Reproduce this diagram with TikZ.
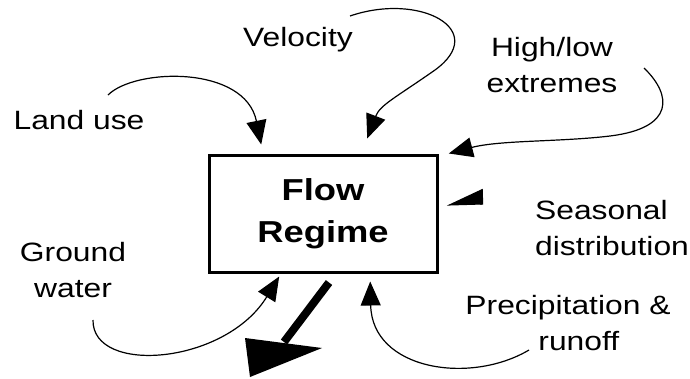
\documentclass[tikz,border=0pt]{standalone}
\usepackage{fontspec}
\setmainfont{Liberation Sans}
\usetikzlibrary{arrows.meta}

\tikzset{
  lbl/.style={font=\fontsize{26.5}{36}\selectfont, xscale=1.2, align=center, inner sep=0pt},
  conn/.style={line width=1.2pt, -{Triangle[length=24pt,width=20pt]}},
  outflow/.style={line width=8pt},
}

\begin{document}
\begin{tikzpicture}[x=1pt,y=-1pt]
\useasboundingbox (0,0) rectangle (690,378);
%%%%% Box %%%%%
\node[draw, line width=3pt, xscale=1.2, minimum width=190pt, minimum height=117pt,
  font=\fontsize{30.3}{42}\selectfont\bfseries, align=center] (regime) at (323,213.5) {Flow\\Regime};
%%%%% Labels %%%%%
\node[lbl] (landuse) at (79,120) {Land use};
\node[lbl] (velocity) at (298,40) {Velocity};
\node[lbl] (highlow) at (552,65) {High/low\\extremes};
\node[lbl, align=left] (seasonal) at (612,228) {Seasonal\\distribution};
\node[lbl] (ground) at (73,270) {Ground\\water};
\node[lbl] (precip) at (568,323) {Precipitation \&\\\hspace*{18pt}runoff};
%%%%% Ends %%%%%
\coordinate (lu-s) at (108,95);
\coordinate (lu-t) at ([shift={(54,-9)}]regime.north west);
\coordinate (ve-s) at (350,16);
\coordinate (ve-t) at ([shift={(160,-15)}]regime.north west);
\coordinate (hl-s) at (644,68);
\coordinate (hl-t) at ([shift={(10,0)}]regime.north east);
\coordinate (se-s) at (480,204);
\coordinate (se-t) at ([shift={(8,-8.5)}]regime.east);
\coordinate (gw-s) at (93,320);
\coordinate (gw-t) at ([shift={(72,3)}]regime.south west);
\coordinate (pr-s) at (529,350);
\coordinate (pr-t) at ([shift={(163,8)}]regime.south west);
\coordinate (out-s) at ([shift={(6,9)}]regime.south);
\coordinate (out-m) at (284,342);
\coordinate (out-t) at (250,377);
%%%%% Arrows %%%%%
\draw[conn] (lu-s) .. controls (135,68) and (245,65) .. (lu-t);
\draw[conn] (ve-s) .. controls (420,-8) and (490,30) .. (435,70)
  .. controls (395,98) and (380,105) .. (ve-t);
\draw[conn] (hl-s) .. controls (672,95) and (675,128) .. (610,136)
  .. controls (560,142) and (500,140) .. (hl-t);
\draw[conn, -{Triangle[length=35pt,width=30pt,right]}] (se-s) -- (se-t);
\draw[conn] (gw-s) .. controls (92,375) and (225,365) .. (gw-t);
\draw[conn] (pr-s) .. controls (470,385) and (372,370) .. (pr-t);
\draw[outflow] (out-s) -- (out-m);
\fill (out-t) -- (245,338) -- (322,348) -- cycle;
\end{tikzpicture}
\end{document}
